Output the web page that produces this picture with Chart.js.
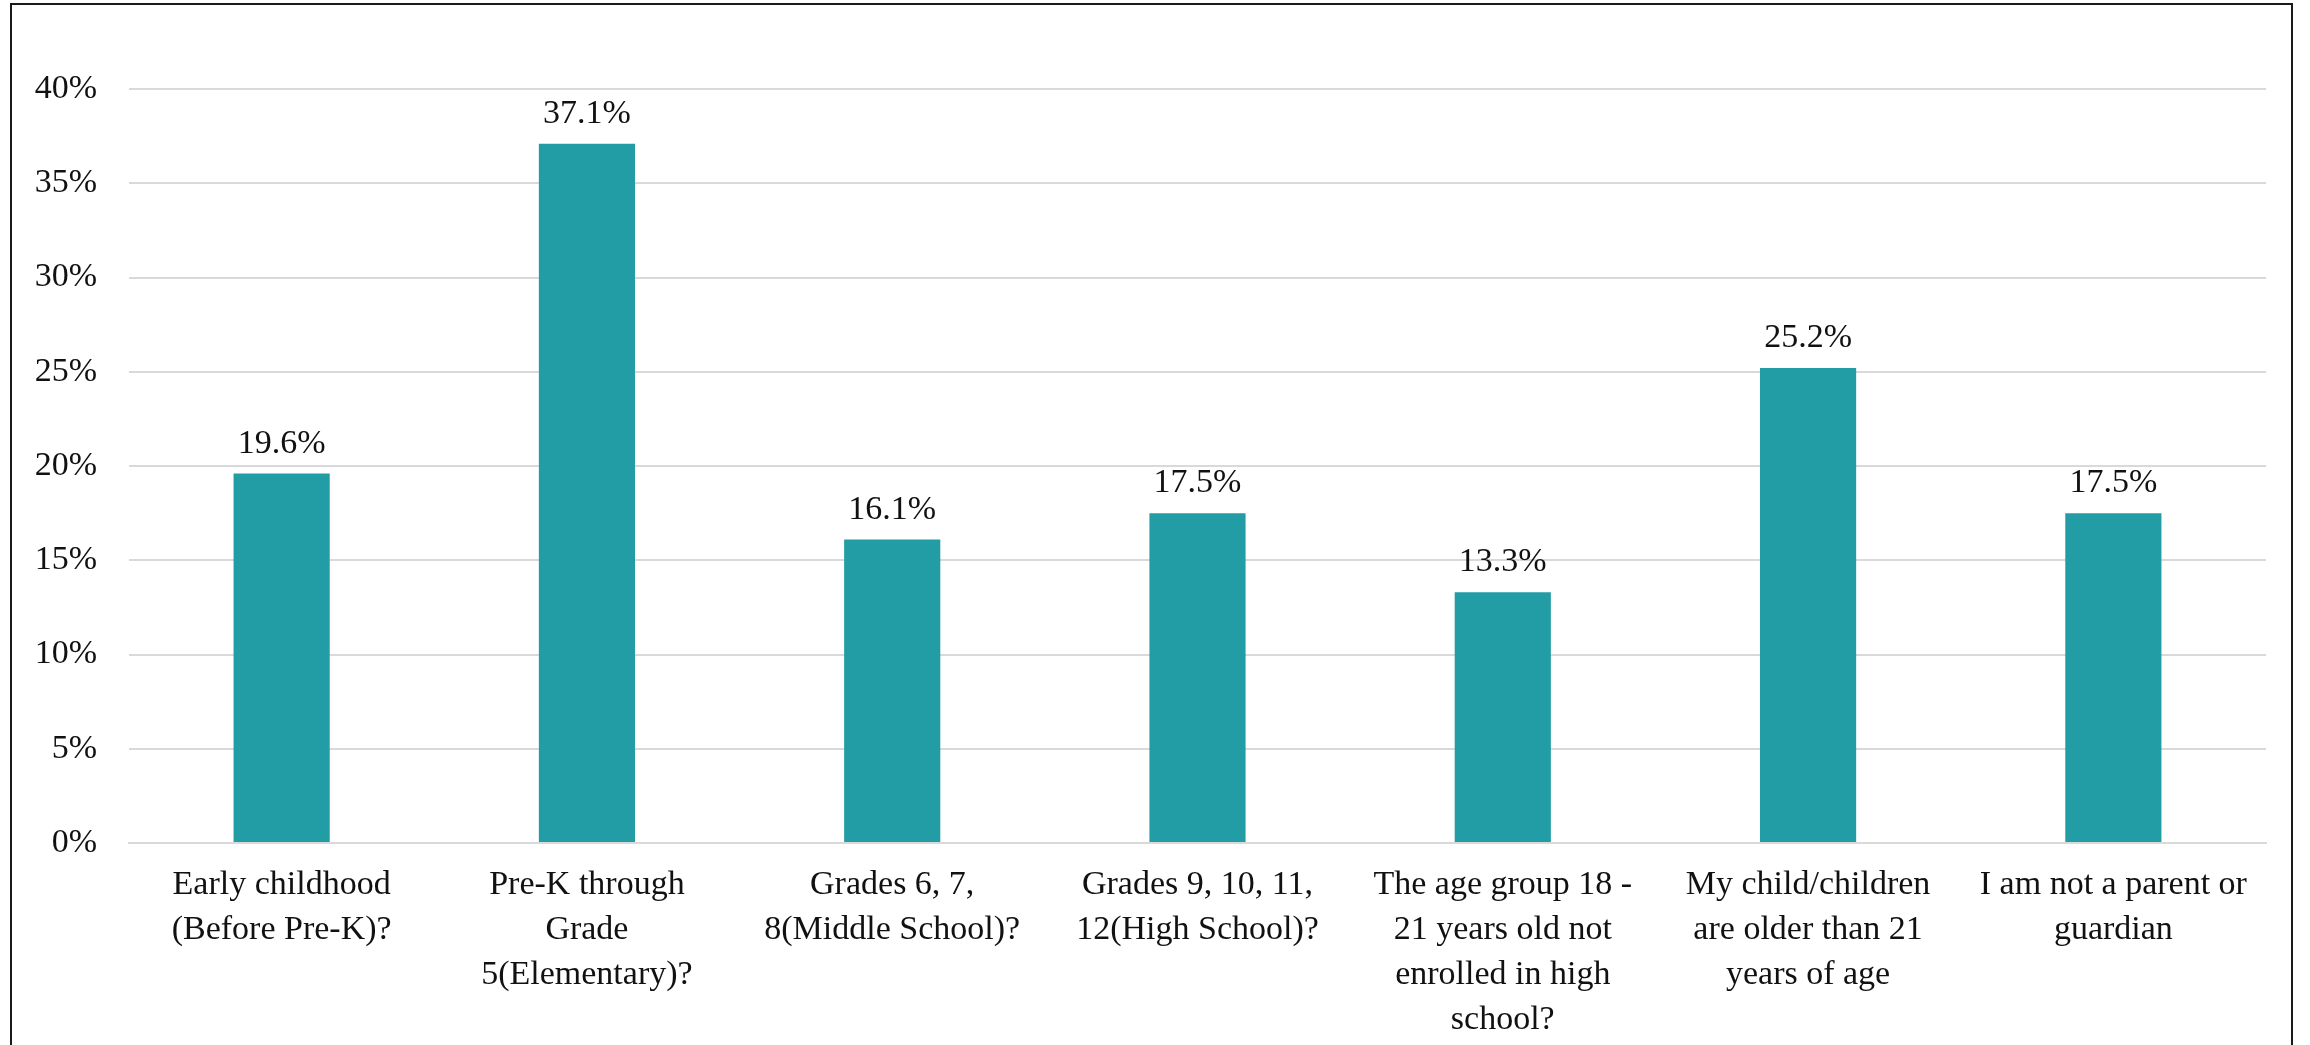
<!DOCTYPE html>
<html>
<head>
<meta charset="utf-8">
<script src="https://cdn.jsdelivr.net/npm/chart.js@4/dist/chart.umd.min.js"></script>
<style>
  html, body { margin: 0; padding: 0; background: #fff; overflow: hidden; }
  #wrap { position: relative; width: 2310px; height: 1045px; }
  #frame {
    position: absolute; left: 10px; top: 3px; width: 2283px; height: 1100px;
    border: 2.5px solid #1a1a1a; box-sizing: border-box;
  }
  canvas { position: absolute; left: 0; top: 0; }
</style>
</head>
<body>
<div id="wrap">
  <div id="frame"></div>
  <canvas id="c" width="2310" height="1045"></canvas>
</div>
<script>
// Survey answers: age group of respondents' children
const categories = [
  ["Early childhood", "(Before Pre-K)?"],
  ["Pre-K through", "Grade", "5(Elementary)?"],
  ["Grades 6, 7,", "8(Middle School)?"],
  ["Grades 9, 10, 11,", "12(High School)?"],
  ["The age group 18 -", "21 years old not", "enrolled in high", "school?"],
  ["My child/children", "are older than 21", "years of age"],
  ["I am not a parent or", "guardian"]
];
const shares = [19.6, 37.1, 16.1, 17.5, 13.3, 25.2, 17.5];
const yTicks = [0, 5, 10, 15, 20, 25, 30, 35, 40];

const FONT = "'Liberation Serif', 'Times New Roman', serif";
const TEXT = '#111111';

// Writes each bar's percentage above it
const valueLabels = {
  id: 'valueLabels',
  afterDatasetsDraw(chart) {
    const ctx = chart.ctx;
    const meta = chart.getDatasetMeta(0);
    ctx.save();
    ctx.font = '34px ' + FONT;
    ctx.fillStyle = TEXT;
    ctx.textAlign = 'center';
    ctx.textBaseline = 'alphabetic';
    meta.data.forEach((bar, i) => {
      ctx.fillText(shares[i].toFixed(1) + '%', bar.x, bar.y - 21);
    });
    ctx.restore();
  }
};

new Chart(document.getElementById('c'), {
  type: 'bar',
  data: {
    labels: categories,
    datasets: [{
      data: shares,
      backgroundColor: '#239da5',
      borderWidth: 0,
      barPercentage: 0.315,
      categoryPercentage: 1.0
    }]
  },
  options: {
    responsive: false,
    animation: false,
    events: [],
    layout: { padding: { top: 89, right: 44, left: 0, bottom: 0 } },
    plugins: { legend: { display: false }, tooltip: { enabled: false } },
    scales: {
      x: {
        grid: { display: false, drawTicks: false },
        border: { display: true, color: '#d9d9d9', width: 2 },
        ticks: {
          color: TEXT,
          font: { family: FONT, size: 34, lineHeight: 1.32 },
          padding: 20,
          maxRotation: 0,
          autoSkip: false
        },
        afterFit(scale) { scale.height = 202; }
      },
      y: {
        min: 0,
        max: 40,
        afterBuildTicks(scale) { scale.ticks = yTicks.map(v => ({ value: v })); },
        grid: { color: '#d9d9d9', lineWidth: 2, drawTicks: false },
        border: { display: false },
        ticks: {
          color: TEXT,
          font: { family: FONT, size: 34 },
          padding: 32,
          callback: v => v + '%'
        },
        afterFit(scale) { scale.width = 129; }
      }
    }
  },
  plugins: [valueLabels]
});
</script>
</body>
</html>
